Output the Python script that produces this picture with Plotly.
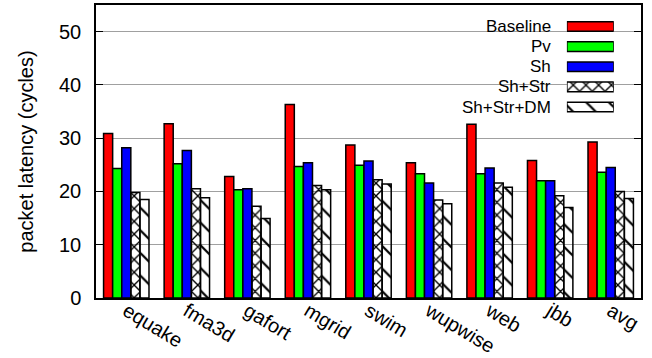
import plotly.graph_objects as go

categories = ["equake", "fma3d", "gafort", "mgrid", "swim", "wupwise", "web", "jbb", "avg"]
series = ["Baseline", "Pv", "Sh", "Sh+Str", "Sh+Str+DM"]
baseline = [30.9, 32.7, 22.8, 36.3, 28.7, 25.4, 32.6, 25.8, 29.3]
pv = [24.3, 25.2, 20.3, 24.7, 24.9, 23.3, 23.3, 22.0, 23.6]
sh = [28.2, 27.7, 20.5, 25.4, 25.7, 21.6, 24.4, 22.0, 24.5]
sh_str = [19.8, 20.5, 17.2, 21.1, 22.2, 18.4, 21.6, 19.2, 20.0]
sh_str_dm = [18.5, 18.8, 14.9, 20.3, 21.4, 17.7, 20.8, 17.0, 18.7]
values = [baseline, pv, sh, sh_str, sh_str_dm]
y_ticks = [0, 10, 20, 30, 40, 50]

styles = [
    dict(color="#ff0000"),
    dict(color="#00ff00"),
    dict(color="#0000ff"),
    dict(color="white", pattern=dict(shape="x", fgcolor="black", size=9, solidity=0.28, fillmode="replace")),
    dict(color="white", pattern=dict(shape="\\", fgcolor="black", size=16, solidity=0.14, fillmode="replace")),
]

FONT = "Liberation Sans, Arial, sans-serif"
FS = 20
LFS = 17
fig = go.Figure()
for name, vals, st in zip(series, values, styles):
    fig.add_trace(go.Bar(x=categories, y=vals, name=name, showlegend=False,
                         marker=dict(**st, line=dict(color="black", width=1.5))))

# custom legend with swatches on the right of the text
for name, st in zip(series, styles):
    fig.add_trace(go.Bar(x=[1], y=[name], orientation="h", xaxis="x2", yaxis="y2",
                         offsetgroup="leg", width=0.48, showlegend=False, hoverinfo="skip",
                         marker=dict(**st, line=dict(color="black", width=1.5))))
    fig.add_annotation(x=0.8385, xref="paper", y=name, yref="y2", text=name,
                       showarrow=False, xanchor="right", yanchor="middle",
                       font=dict(family=FONT, size=LFS, color="black"))

fig.add_shape(type="rect", xref="paper", yref="paper", x0=0.635, x1=0.997, y0=0.61, y1=0.995,
              fillcolor="white", line=dict(width=0), layer="between")

fig.update_layout(
    width=652, height=358,
    margin=dict(l=96, r=11, t=5, b=60, autoexpand=False),
    paper_bgcolor="white", plot_bgcolor="white",
    barmode="group", bargap=0.25, bargroupgap=0,
    font=dict(family=FONT, size=FS, color="black"),
    xaxis=dict(range=[-0.5, 8.5], showline=True, linecolor="black", linewidth=1.5, mirror=True,
               ticks="", tickangle=31, showgrid=False, tickfont=dict(size=FS), automargin=False,
               ticklabelstandoff=-8),
    yaxis=dict(range=[0, 55], tickvals=y_ticks, showline=True, linecolor="black", linewidth=1.5,
               mirror="ticks", ticks="inside", ticklen=7, tickcolor="black", tickwidth=1,
               showgrid=True, gridcolor="#a0a0a0", gridwidth=1, zeroline=False,
               ticklabelstandoff=9, tickfont=dict(size=FS), automargin=False,
               title=dict(text="packet latency (cycles)", font=dict(size=FS), standoff=20)),
    xaxis2=dict(domain=[0.864, 0.950], range=[0, 1], visible=False, anchor="y2", fixedrange=True),
    yaxis2=dict(domain=[0.6126, 0.9659], visible=False, anchor="x2", autorange="reversed",
                type="category", categoryorder="array", categoryarray=series, fixedrange=True),
)

fig.write_html("out.html")
